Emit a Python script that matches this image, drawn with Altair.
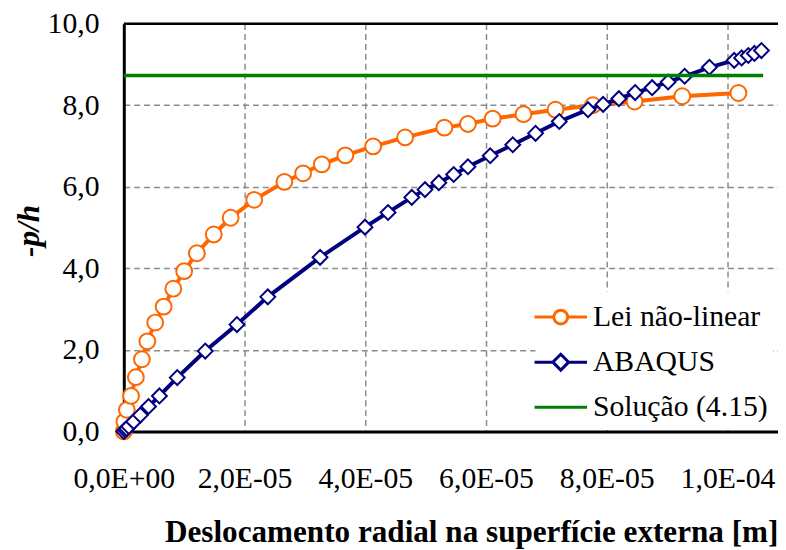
import altair as alt
import pandas as pd

# ---- data (x in units of 1e-5 m, y = -p/h) ----
lei_x_e5 = [0.0, 0.01, 0.05, 0.12, 0.20, 0.30, 0.39, 0.52, 0.66, 0.82, 1.00, 1.21, 1.49, 1.77, 2.16,
            2.66, 2.97, 3.28, 3.67, 4.13, 4.66, 5.31, 5.70, 6.11, 6.62, 7.15, 7.77, 8.46, 9.25, 10.18]
lei_y = [0.0, 0.24, 0.53, 0.87, 1.33, 1.77, 2.21, 2.67, 3.06, 3.50, 3.93, 4.37, 4.83, 5.24, 5.68,
         6.12, 6.33, 6.55, 6.77, 6.99, 7.21, 7.45, 7.54, 7.67, 7.78, 7.89, 8.00, 8.09, 8.22, 8.30]

aba_x_e5 = [0.0, 0.025, 0.049, 0.082, 0.164, 0.274, 0.410, 0.590, 0.885, 1.349, 1.874, 2.385, 3.251,
            3.995, 4.377, 4.770, 4.989, 5.218, 5.464, 5.700, 6.069, 6.443, 6.820, 7.213, 7.689, 7.939,
            8.200, 8.470, 8.751, 9.016, 9.290, 9.700, 10.110, 10.234, 10.344, 10.446, 10.562]
aba_y = [0.0, 0.04, 0.07, 0.12, 0.24, 0.40, 0.61, 0.87, 1.32, 1.97, 2.62, 3.30, 4.27,
         5.01, 5.37, 5.74, 5.93, 6.10, 6.30, 6.49, 6.76, 7.03, 7.31, 7.60, 7.89, 8.02,
         8.16, 8.31, 8.43, 8.57, 8.71, 8.93, 9.10, 9.16, 9.22, 9.27, 9.34]

sol_x_e5 = [0.0, 10.59]
sol_y = [8.73, 8.73]

series_names = ["Lei não-linear", "ABAQUS", "Solução (4.15)"]
series_colors = ["#FF6600", "#000080", "#008000"]

x_tick_values_e5 = [0, 2, 4, 6, 8, 10]
x_tick_labels = ["0,0E+00", "2,0E-05", "4,0E-05", "6,0E-05", "8,0E-05", "1,0E-04"]
y_tick_values = [0, 2, 4, 6, 8, 10]
y_tick_labels = ["0,0", "2,0", "4,0", "6,0", "8,0", "10,0"]

x_max_e5 = 10.836

# ---- tables ----
def table(xs, ys, name):
    return pd.DataFrame({"x": [v * 1e-5 for v in xs], "y": ys, "serie": name})

lei = table(lei_x_e5, lei_y, series_names[0])
aba = table(aba_x_e5, aba_y, series_names[1])
sol = table(sol_x_e5, sol_y, series_names[2])
allrows = pd.concat([lei, aba, sol], ignore_index=True)

W, H = 661, 412
FONT = "Liberation Serif"
FS = 30

x_label_expr = "[" + ",".join("'%s'" % s for s in x_tick_labels) + "][round(datum.value/2e-5)]"
y_label_expr = "[" + ",".join("'%s'" % s for s in y_tick_labels) + "][round(datum.value/2)]"

common_axis = dict(
    domainColor="black",
    domainWidth=3,
    grid=True,
    gridColor="#8c8c8c",
    gridDash=[6, 4],
    gridWidth=1.5,
    ticks=False,
    labelFont=FONT,
    labelFontSize=FS,
    labelColor="black",
    titleFont=FONT,
    titleFontSize=31.5,
    titleColor="black",
    titleFontWeight="bold",
    titleBaseline="middle",
    titleAlign="center",
)

x_enc = alt.X(
    "x:Q",
    scale=alt.Scale(domain=[0, x_max_e5 * 1e-5], nice=False, zero=False),
    axis=alt.Axis(
        values=[v * 1e-5 for v in x_tick_values_e5],
        labelExpr=x_label_expr,
        labelPadding=33,
        labelFlush=False,
        title="Deslocamento radial na superfície externa [m]",
        titleX=351,
        titleY=102,
        **common_axis,
    ),
)
y_enc = alt.Y(
    "y:Q",
    scale=alt.Scale(domain=[0, 10], nice=False),
    axis=alt.Axis(
        values=y_tick_values,
        labelExpr=y_label_expr,
        labelPadding=25,
        title="-p/h",
        titleFontStyle="italic",
        titleAngle=270,
        titleX=-95,
        titleY=209,
        **common_axis,
    ),
)

# legend symbol paths (line + marker)
u = 0.37
k = round(0.5523 * u, 3)
circle_path = (
    "M-1.395,0L-%(u)s,0M%(u)s,0L1.395,0"
    "M-%(u)s,0C-%(u)s,-%(k)s -%(k)s,-%(u)s 0,-%(u)s"
    "C%(k)s,-%(u)s %(u)s,-%(k)s %(u)s,0"
    "C%(u)s,%(k)s %(k)s,%(u)s 0,%(u)s"
    "C-%(k)s,%(u)s -%(u)s,%(k)s -%(u)s,0Z" % {"u": u, "k": k}
)
d = 0.42
diamond_path = (
    "M-1.395,0L-%(d)s,0M%(d)s,0L1.395,0"
    "M-%(d)s,0L0,-%(d)s L%(d)s,0 L0,%(d)s Z" % {"d": d}
)
line_path = "M-1.395,0L1.395,0"

legend = alt.Legend(
    title=None,
    orient="none",
    legendX=416,
    legendY=271,
    padding=5,
    fillColor="white",
    symbolSize=1444,
    symbolStrokeWidth=3,
    labelFont=FONT,
    labelFontSize=FS,
    labelColor="black",
    labelOffset=12,
    labelLimit=400,
    rowPadding=9.5,
)

base = alt.Chart(allrows)

grid_top = alt.Chart(pd.DataFrame({"a": [0]})).mark_rule(color="black", strokeWidth=2.5).encode(
    x=alt.value(0), x2=alt.value(W), y=alt.value(0)
)

lei_line = alt.Chart(lei).mark_line(strokeWidth=4, color=series_colors[0]).encode(x=x_enc, y=y_enc)
lei_pts = alt.Chart(lei).mark_point(
    shape="circle", size=256, filled=False, fill="white", stroke=series_colors[0], strokeWidth=2, opacity=1
).encode(x=x_enc, y=y_enc)
aba_line = alt.Chart(aba).mark_line(strokeWidth=4, color=series_colors[1]).encode(x=x_enc, y=y_enc)
aba_pts = alt.Chart(aba).mark_point(
    shape="diamond", size=225, filled=False, fill="white", stroke=series_colors[1], strokeWidth=2, opacity=1
).encode(x=x_enc, y=y_enc)
sol_line = alt.Chart(sol).mark_line(strokeWidth=3.5, color=series_colors[2]).encode(x=x_enc, y=y_enc)

legend_layer = base.mark_point(filled=False, fill="white", strokeWidth=3, opacity=1).encode(
    x=x_enc,
    y=y_enc,
    color=alt.Color("serie:N", scale=alt.Scale(domain=series_names, range=series_colors), legend=legend),
    shape=alt.Shape(
        "serie:N",
        scale=alt.Scale(domain=series_names, range=[circle_path, diamond_path, line_path]),
        legend=legend,
    ),
).transform_filter("false")

chart = (
    alt.layer(lei_line, lei_pts, aba_line, aba_pts, sol_line, grid_top, legend_layer)
    .properties(
        width=W,
        height=H,
        autosize=alt.AutoSizeParams(type="none"),
        padding={"left": 117, "top": 13, "right": 0, "bottom": 118},
        background="white",
    )
    .configure(font=FONT)
    .configure_view(stroke=None)
)

chart.save("out.html", embed_options={"renderer": "svg", "actions": False})
